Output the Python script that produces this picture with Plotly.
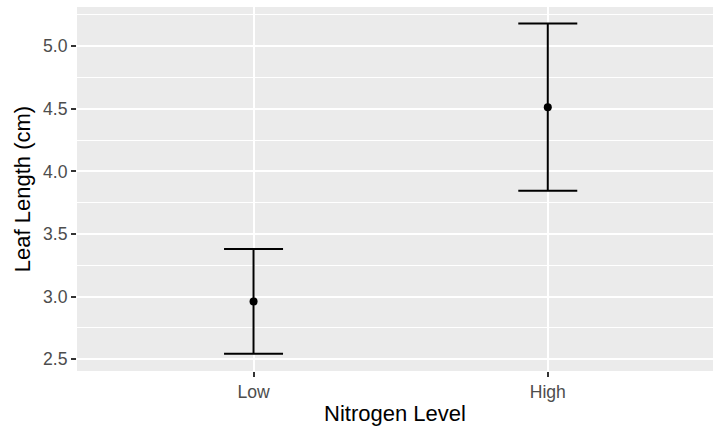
import plotly.graph_objects as go

# Group means and symmetric error half-widths (cm)
levels = ["Low", "High"]
mean_length = [2.962, 4.513]
error_length = [0.419, 0.668]

positions = [1, 2]

fig = go.Figure()
fig.add_trace(go.Scatter(
    x=positions,
    y=mean_length,
    mode="markers",
    marker=dict(color="black", size=8),
    error_y=dict(type="data", array=error_length, symmetric=True,
                 color="black", thickness=2, width=29.5),
    showlegend=False,
    hoverinfo="skip",
))

font_family = "Liberation Sans, Arial, sans-serif"

fig.update_layout(
    width=713, height=427,
    margin=dict(l=76.5, r=0, t=6.5, b=56.3, pad=0),
    paper_bgcolor="white",
    plot_bgcolor="#EBEBEB",
    font=dict(family=font_family),
    showlegend=False,
)

fig.update_xaxes(
    range=[0.4, 2.5615],
    tickmode="array", tickvals=positions, ticktext=levels,
    showgrid=True, gridcolor="white", gridwidth=2,
    zeroline=False, showline=False,
    ticks="outside", ticklen=5, tickwidth=1.5, tickcolor="#333333",
    tickfont=dict(size=17.6, color="#4D4D4D", family=font_family),
    title=dict(text="Nitrogen Level", font=dict(size=22, color="black", family=font_family), standoff=4),
)

fig.update_yaxes(
    range=[2.406, 5.313],
    tickmode="linear", tick0=0, dtick=0.5, tickformat=".1f",
    showgrid=True, gridcolor="white", gridwidth=2,
    minor=dict(dtick=0.25, tick0=0, showgrid=True, gridcolor="white", gridwidth=1, ticks=""),
    zeroline=False, showline=False,
    ticks="outside", ticklen=5, tickwidth=1.5, tickcolor="#333333",
    tickfont=dict(size=17.6, color="#4D4D4D", family=font_family),
    title=dict(text="Leaf Length (cm)", font=dict(size=22, color="black", family=font_family), standoff=6),
)

fig.write_html("out.html")
